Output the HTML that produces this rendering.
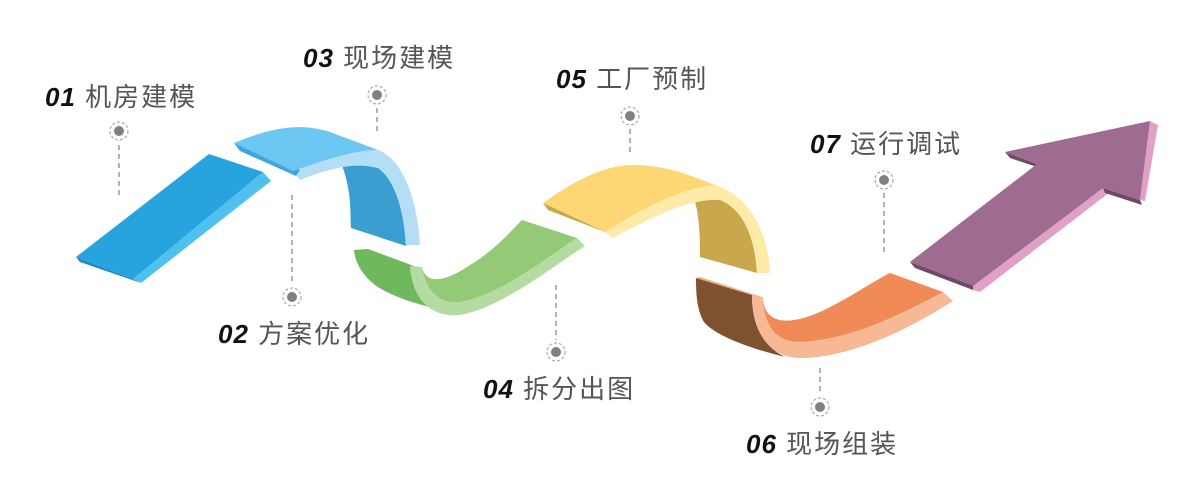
<!DOCTYPE html>
<html><head><meta charset="utf-8"><style>
html,body{margin:0;padding:0;background:#fff;width:1200px;height:500px;overflow:hidden}
</style></head><body>
<svg width="1200" height="500" viewBox="0 0 1200 500" xmlns="http://www.w3.org/2000/svg">
<g stroke="#999" stroke-width="1.5" stroke-dasharray="5,4" fill="none">
<line x1="119" y1="145" x2="119" y2="198"/>
<line x1="377" y1="108" x2="377" y2="133"/>
<line x1="630" y1="129" x2="630" y2="156"/>
<line x1="884" y1="193" x2="884" y2="255"/>
<line x1="292" y1="195" x2="292" y2="284"/>
<line x1="556" y1="285" x2="556" y2="340"/>
<line x1="820" y1="368" x2="820" y2="395"/>
</g>
<g>
<g fill="none" stroke="#aaa" stroke-width="1.2" stroke-dasharray="3,2">
<circle cx="119" cy="131" r="9"/><circle cx="377" cy="95" r="9"/><circle cx="630" cy="116" r="9"/><circle cx="884" cy="180" r="9"/>
<circle cx="292" cy="297" r="9"/><circle cx="556" cy="352" r="9"/><circle cx="820" cy="407" r="9"/>
</g>
<g fill="#808080">
<circle cx="119" cy="131" r="5"/><circle cx="377" cy="95" r="5"/><circle cx="630" cy="116" r="5"/><circle cx="884" cy="180" r="5"/>
<circle cx="292" cy="297" r="5"/><circle cx="556" cy="352" r="5"/><circle cx="820" cy="407" r="5"/>
</g>
</g>
<!-- 1 blue -->
<polygon points="76,257 133,279 141,283 80,262" fill="#1f86c0"/>
<polygon points="263,172 271,181 141,283 133,279" fill="#4fc1ef"/>
<polygon points="76,257 209,154 263,172 133,279" fill="#27a3dd"/>
<!-- 2 light blue arch -->
<path d="M340,160 C352,190 350,210 351,228 L406,246 C404,210 395,180 378,168 Z" fill="#3a9fd0"/>
<path d="M293,171 C325,160 355,150 378,150 C405,160 418,205 420,245 L406,245 C404,210 395,180 378,168 C355,162 330,168 300,180 Z" fill="#b3def6"/>
<path d="M234,143 L240,151 L296,176 L300,170 Z" fill="#3fa6dc"/>
<path d="M234,143 C270,128 300,122 330,132 L378,150 C355,150 325,160 293,171 Z" fill="#6cc8f3"/>
<!-- 3 green -->
<path d="M354,250 L368,249 L414,266 C415,288 428,304 452,312 C420,306 390,296 375,285 C362,275 355,262 354,250 Z" fill="#6fb85e"/>
<path d="M410,266 L422,267 C425,290 440,305 460,302 C500,295 540,262 577,238 L585,246 C545,272 500,308 460,315 C430,318 412,298 410,266 Z" fill="#b4dba1"/>
<path d="M422,267 C426,285 445,282 470,265 C495,250 510,232 522,220 L577,238 C540,262 500,295 460,302 C440,305 425,290 422,267 Z" fill="#94c977"/>
<!-- 4 yellow arch -->
<path d="M693,195 C700,215 700,240 700,257 L757,273 C755,240 745,210 720,200 Z" fill="#c9a74c"/>
<path d="M605,232 C640,210 680,188 715,185 C748,195 768,230 770,273 L757,273 C755,240 745,210 720,200 C685,198 645,222 612,238 Z" fill="#fdeba7"/>
<path d="M543,203 L548,210 L605,232 L610,226 Z" fill="#c8a64a"/>
<path d="M543,203 C575,180 605,165 633,165 C665,165 690,175 715,185 C680,188 640,210 605,232 Z" fill="#fdd773"/>
<!-- 5 orange -->
<path d="M696,278 L752,295 C752,325 762,345 785,357 C745,347 715,335 704,322 C697,310 696,295 696,278 Z" fill="#7e5130"/>
<path d="M696,278 L752,295 L762,297 L700,277 Z" fill="#f3a986"/>
<path d="M752,295 L763,297 C765,328 778,342 800,342 C850,340 900,315 943,292 L953,301 C900,335 845,358 800,358 C768,358 752,330 752,295 Z" fill="#f7b896"/>
<path d="M763,300 C766,325 790,325 820,312 C850,298 870,283 890,273 L943,292 C900,315 850,340 800,342 C775,342 765,325 763,300 Z" fill="#f08b57"/>
<!-- purple arrow -->
<polygon points="910,262 915,268 973,290 973,285" fill="#6f4a66"/>
<polygon points="973,285 1103,188 1110,192 980,292 973,290" fill="#e1a0c5"/>
<polygon points="1005,152 1010,158 1040,168 1037,164" fill="#6f4a66"/>
<polygon points="1103,188 1140,200 1142,205 1105,193" fill="#6f4a66"/>
<polygon points="1150,121 1158,125 1145,201 1140,200" fill="#e1a0c5"/>
<polygon points="910,262 1037,164 1005,152 1150,121 1140,200 1103,188 973,286" fill="#9e6b91"/>
<!-- labels -->
<g font-family="'Liberation Sans','Noto Sans CJK SC',sans-serif" font-size="26">
<text x="45" y="106"><tspan font-weight="bold" font-style="italic" fill="#111" letter-spacing="1">01</tspan><tspan fill="#555" letter-spacing="2"> 机房建模</tspan></text>
<text x="303" y="67"><tspan font-weight="bold" font-style="italic" fill="#111" letter-spacing="1">03</tspan><tspan fill="#555" letter-spacing="2"> 现场建模</tspan></text>
<text x="556" y="88"><tspan font-weight="bold" font-style="italic" fill="#111" letter-spacing="1">05</tspan><tspan fill="#555" letter-spacing="2"> 工厂预制</tspan></text>
<text x="810" y="153"><tspan font-weight="bold" font-style="italic" fill="#111" letter-spacing="1">07</tspan><tspan fill="#555" letter-spacing="2"> 运行调试</tspan></text>
<text x="218" y="343"><tspan font-weight="bold" font-style="italic" fill="#111" letter-spacing="1">02</tspan><tspan fill="#555" letter-spacing="2"> 方案优化</tspan></text>
<text x="483" y="398"><tspan font-weight="bold" font-style="italic" fill="#111" letter-spacing="1">04</tspan><tspan fill="#555" letter-spacing="2"> 拆分出图</tspan></text>
<text x="746" y="453"><tspan font-weight="bold" font-style="italic" fill="#111" letter-spacing="1">06</tspan><tspan fill="#555" letter-spacing="2"> 现场组装</tspan></text>
</g>
</svg>
</body></html>
